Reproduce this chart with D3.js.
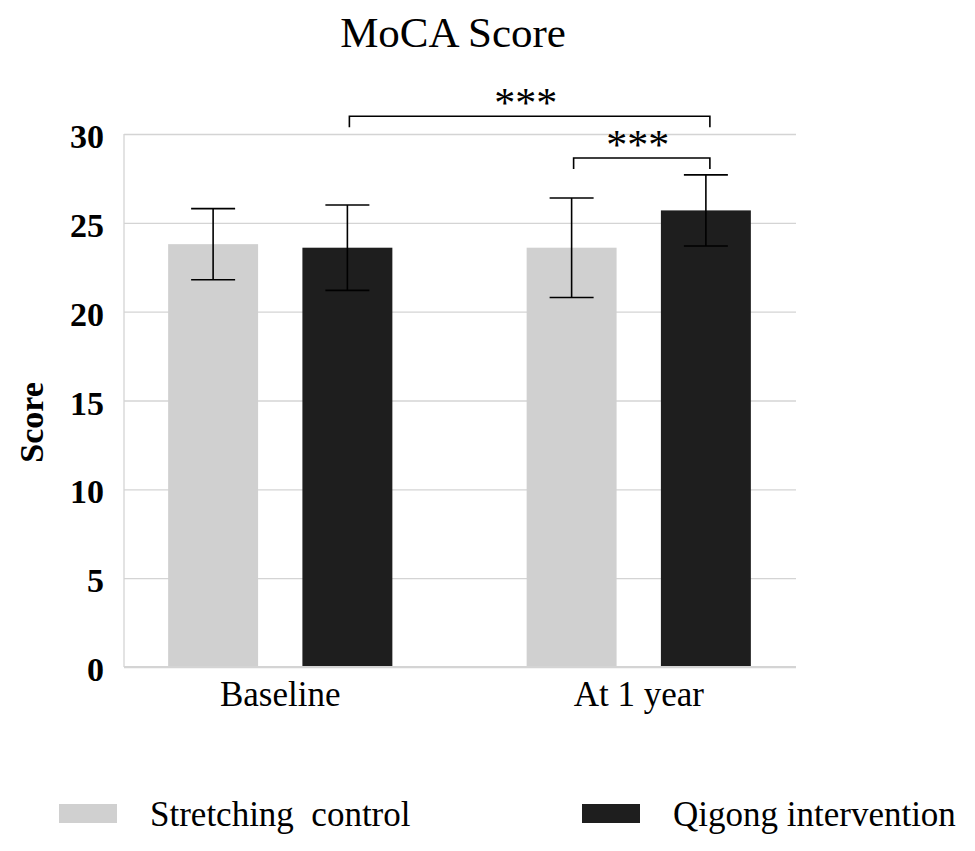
<!DOCTYPE html>
<html lang="en">
<head>
  <meta charset="UTF-8">
  <title>MoCA Score</title>
  <script src="https://d3js.org/d3.v7.min.js"></script>
  <style>
    body {
      margin: 0;
      background: white;
      font-family: "Liberation Serif", "Times New Roman", serif;
    }
    svg text {
      font-family: "Liberation Serif", "Times New Roman", serif;
      fill: #000;
    }
  </style>
</head>
<body>
<svg width="975" height="851"></svg>

<script>
  // data (mean and SD)
  const groups = ["Baseline", "At 1 year"];
  const seriesNames = ["Stretching  control", "Qigong intervention"];
  const seriesColors = ["#d0d0d0", "#1e1e1e"];
  const stretchMean = [23.8, 23.6];
  const stretchSD = [2.0, 2.8];
  const qigongMean = [23.6, 25.7];
  const qigongSD = [2.4, 2.0];
  const yTicks = [0, 5, 10, 15, 20, 25, 30];
  // significance brackets: [group, series] endpoints, bracket level in score units
  const sigPairs = [
    {from: [0, 1], to: [1, 1], level: 31.0, label: "***"},
    {from: [1, 0], to: [1, 1], level: 28.65, label: "***"}
  ];

  const svg = d3.select("svg");
  const plot = {left: 124, right: 796, top: 134, bottom: 667};

  const rows = [];
  groups.forEach((g, gi) => {
    rows.push({group: g, series: 0, mean: stretchMean[gi], sd: stretchSD[gi]});
    rows.push({group: g, series: 1, mean: qigongMean[gi], sd: qigongSD[gi]});
  });

  const y = d3.scaleLinear()
      .domain([0, 30])
      .range([plot.bottom, plot.top]);

  const x0 = d3.scaleBand()
      .domain(groups)
      .range([101, 818]);

  const x1 = d3.scaleBand()
      .domain([0, 1])
      .range([0, x0.bandwidth()])
      .paddingInner(0.33)
      .paddingOuter(0.5);

  const cx = (gi, si) => x0(groups[gi]) + x1(si) + x1.bandwidth() / 2;

  // title
  svg.append("text")
      .attr("x", 453)
      .attr("y", 47)
      .attr("text-anchor", "middle")
      .style("font-size", "43px")
      .text("MoCA Score");

  // grid + y axis
  const yAxis = svg.append("g")
      .attr("transform", `translate(${plot.left},0)`)
      .call(d3.axisLeft(y).tickValues(yTicks).tickSize(-(plot.right - plot.left)).tickPadding(20));
  yAxis.select(".domain").remove();
  yAxis.selectAll("line").attr("stroke", "#d4d4d4").attr("stroke-width", 1.3);
  yAxis.selectAll("text")
      .style("font-family", "'Liberation Serif', serif")
      .style("font-size", "34px")
      .style("font-weight", "bold")
      .attr("dy", "0.4em");

  // left axis line
  svg.append("line")
      .attr("x1", plot.left).attr("x2", plot.left)
      .attr("y1", plot.top).attr("y2", plot.bottom)
      .attr("stroke", "#d4d4d4").attr("stroke-width", 1.3);

  // bars
  svg.append("g").selectAll("rect")
      .data(rows)
      .join("rect")
      .attr("x", d => x0(d.group) + x1(d.series))
      .attr("y", d => y(d.mean))
      .attr("width", x1.bandwidth())
      .attr("height", d => y(0) - y(d.mean))
      .attr("fill", d => seriesColors[d.series]);

  // x axis baseline
  svg.append("line")
      .attr("x1", plot.left).attr("x2", plot.right)
      .attr("y1", plot.bottom).attr("y2", plot.bottom)
      .attr("stroke", "#d4d4d4").attr("stroke-width", 2);

  // x axis labels
  const xAxis = svg.append("g")
      .attr("transform", `translate(0,${plot.bottom})`)
      .call(d3.axisBottom(x0).tickSize(0).tickPadding(14));
  xAxis.select(".domain").remove();
  xAxis.selectAll("text")
      .style("font-family", "'Liberation Serif', serif")
      .style("font-size", "35px");

  // error bars
  const cap = 22;
  const err = svg.append("g").attr("stroke", "#000").attr("stroke-width", 1.6);
  rows.forEach(d => {
    const c = x0(d.group) + x1(d.series) + x1.bandwidth() / 2;
    const hi = y(d.mean + d.sd), lo = y(d.mean - d.sd);
    err.append("line").attr("x1", c).attr("x2", c).attr("y1", hi).attr("y2", lo);
    err.append("line").attr("x1", c - cap).attr("x2", c + cap).attr("y1", hi).attr("y2", hi);
    err.append("line").attr("x1", c - cap).attr("x2", c + cap).attr("y1", lo).attr("y2", lo);
  });

  // significance brackets
  sigPairs.forEach(p => {
    const xa = cx(p.from[0], p.from[1]) + 2;
    const xb = cx(p.to[0], p.to[1]) + 4;
    const yl = y(p.level);
    svg.append("path")
        .attr("d", `M${xa},${yl + 11}V${yl}H${xb}V${yl + 11}`)
        .attr("fill", "none")
        .attr("stroke", "#000")
        .attr("stroke-width", 1.6);
    svg.append("text")
        .attr("x", (xa + xb) / 2 - 4)
        .attr("y", yl + 1)
        .attr("text-anchor", "middle")
        .style("font-size", "42px")
        .text(p.label);
  });

  // y axis title
  svg.append("text")
      .attr("transform", `translate(43,${(plot.top + plot.bottom) / 2 + 22}) rotate(-90)`)
      .attr("text-anchor", "middle")
      .style("font-size", "34px")
      .style("font-weight", "bold")
      .text("Score");

  // legend
  const legendX = [59, 582];
  const legend = svg.append("g");
  seriesNames.forEach((name, i) => {
    legend.append("rect")
        .attr("x", legendX[i])
        .attr("y", 804)
        .attr("width", 58)
        .attr("height", 19)
        .attr("fill", seriesColors[i]);
    legend.append("text")
        .attr("x", legendX[i] + 91)
        .attr("y", 826)
        .style("font-size", "35px")
        .style("white-space", "pre")
        .attr("xml:space", "preserve")
        .text(name);
  });
</script>
</body>
</html>
